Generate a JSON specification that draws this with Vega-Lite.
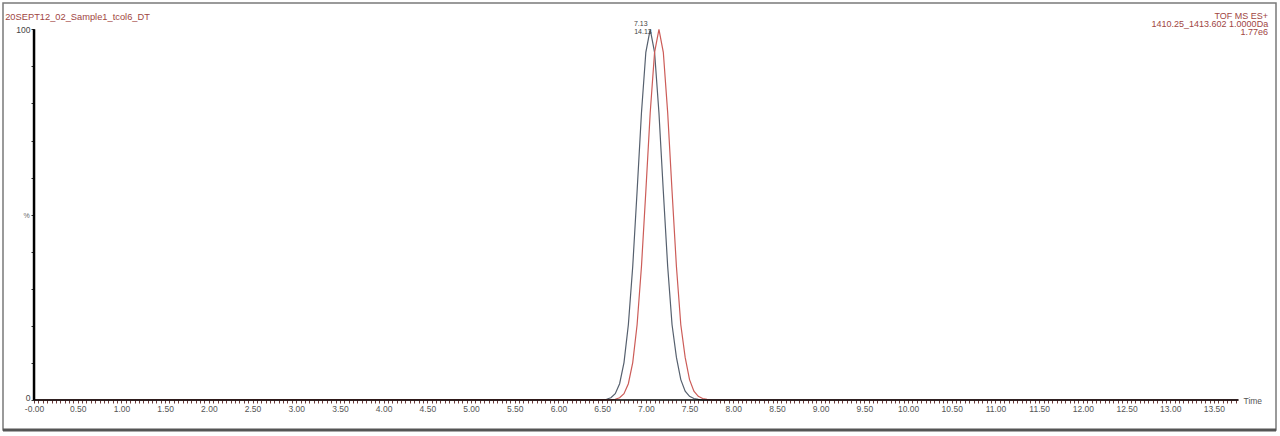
{
  "$schema": "https://vega.github.io/schema/vega-lite/v6.json",
  "width": 1273,
  "height": 427,
  "autosize": {"type": "none"},
  "padding": {"left": 3, "top": 3, "right": 4, "bottom": 6},
  "background": "white",
  "config": {"view": {"stroke": "#7a7a7a", "strokeWidth": 1.5}, "font": "Liberation Sans"},
  "datasets": {
    "trace": [
      {"trace": "grey", "time": 0, "intensity": 0},
      {"trace": "grey", "time": 6.50, "intensity": 0.05},
      {"trace": "grey", "time": 6.55, "intensity": 0.2},
      {"trace": "grey", "time": 6.60, "intensity": 0.6},
      {"trace": "grey", "time": 6.65, "intensity": 1.7},
      {"trace": "grey", "time": 6.70, "intensity": 4.4},
      {"trace": "grey", "time": 6.75, "intensity": 10.1},
      {"trace": "grey", "time": 6.80, "intensity": 20.3},
      {"trace": "grey", "time": 6.85, "intensity": 36.0},
      {"trace": "grey", "time": 6.90, "intensity": 56.3},
      {"trace": "grey", "time": 6.95, "intensity": 77.5},
      {"trace": "grey", "time": 7.00, "intensity": 93.8},
      {"trace": "grey", "time": 7.05, "intensity": 100},
      {"trace": "grey", "time": 7.10, "intensity": 93.8},
      {"trace": "grey", "time": 7.15, "intensity": 77.5},
      {"trace": "grey", "time": 7.20, "intensity": 56.3},
      {"trace": "grey", "time": 7.25, "intensity": 36.0},
      {"trace": "grey", "time": 7.30, "intensity": 20.3},
      {"trace": "grey", "time": 7.35, "intensity": 11.5},
      {"trace": "grey", "time": 7.40, "intensity": 5.5},
      {"trace": "grey", "time": 7.45, "intensity": 2.4},
      {"trace": "grey", "time": 7.50, "intensity": 1.0},
      {"trace": "grey", "time": 7.55, "intensity": 0.4},
      {"trace": "grey", "time": 7.60, "intensity": 0.15},
      {"trace": "grey", "time": 7.65, "intensity": 0},
      {"trace": "grey", "time": 13.78, "intensity": 0},
      {"trace": "red", "time": 0, "intensity": 0},
      {"trace": "red", "time": 6.60, "intensity": 0.05},
      {"trace": "red", "time": 6.65, "intensity": 0.2},
      {"trace": "red", "time": 6.70, "intensity": 0.6},
      {"trace": "red", "time": 6.75, "intensity": 1.7},
      {"trace": "red", "time": 6.80, "intensity": 4.4},
      {"trace": "red", "time": 6.85, "intensity": 10.1},
      {"trace": "red", "time": 6.90, "intensity": 20.3},
      {"trace": "red", "time": 6.95, "intensity": 36.0},
      {"trace": "red", "time": 7.00, "intensity": 56.3},
      {"trace": "red", "time": 7.05, "intensity": 77.5},
      {"trace": "red", "time": 7.10, "intensity": 93.8},
      {"trace": "red", "time": 7.15, "intensity": 100},
      {"trace": "red", "time": 7.20, "intensity": 93.8},
      {"trace": "red", "time": 7.25, "intensity": 77.5},
      {"trace": "red", "time": 7.30, "intensity": 56.3},
      {"trace": "red", "time": 7.35, "intensity": 36.0},
      {"trace": "red", "time": 7.40, "intensity": 20.3},
      {"trace": "red", "time": 7.45, "intensity": 11.5},
      {"trace": "red", "time": 7.50, "intensity": 5.5},
      {"trace": "red", "time": 7.55, "intensity": 2.4},
      {"trace": "red", "time": 7.60, "intensity": 1.0},
      {"trace": "red", "time": 7.65, "intensity": 0.4},
      {"trace": "red", "time": 7.70, "intensity": 0.15},
      {"trace": "red", "time": 7.75, "intensity": 0},
      {"trace": "red", "time": 13.78, "intensity": 0}
    ],
    "peaks": [
      {"trace": "red", "time": 7.15, "intensity": 100, "label": "7.13"},
      {"trace": "grey", "time": 7.05, "intensity": 100, "label": "14.13"}
    ]
  },
  "layer": [
    {
      "data": {"name": "trace"},
      "mark": {"type": "line", "strokeWidth": 1.2},
      "encoding": {
        "x": {
          "field": "time", "type": "quantitative",
          "scale": {"domain": [-0.355, 14.21], "nice": false, "zero": false},
          "axis": {
            "orient": "bottom", "offset": -30, "domain": false, "grid": false,
            "tickCount": 292, "tickSize": 3, "tickWidth": 1,
            "tickColor": "#6b3a3a",
            "tickOpacity": {"condition": {"test": "datum.value < -0.01 || datum.value > 13.79", "value": 0}, "value": 1},
            "labelExpr": "(datum.value < -0.01 || datum.value > 13.51 || abs(datum.value*2 - round(datum.value*2)) > 0.01) ? '' : (abs(datum.value) < 0.001 ? '-0.00' : format(datum.value, '.2f'))",
            "labelOverlap": false, "labelBound": false, "labelFlush": false,
            "labelFontSize": 8.5, "labelColor": "#555555", "labelPadding": 1,
            "title": "Time", "titleX": 1240, "titleY": 0, "titleAlign": "left", "titleBaseline": "middle",
            "titleAngle": 0, "titleFontSize": 8.5, "titleFontWeight": "normal", "titleColor": "#555555"
          }
        },
        "y": {
          "field": "intensity", "type": "quantitative",
          "scale": {"domain": [-8.09, 107.1], "nice": false, "zero": false},
          "axis": {
            "orient": "left", "offset": -31, "domain": false, "grid": false,
            "values": [0, 10, 20, 30, 40, 50, 60, 70, 80, 90, 100],
            "tickSize": 3, "tickColor": "#333333",
            "labelExpr": "(datum.value == 0 || datum.value == 100) ? datum.label : ''",
            "labelOffset": {"condition": {"test": "datum.value == 0", "value": -3}, "value": 0},
            "labelFontSize": 8.5, "labelColor": "#444444", "labelPadding": 1,
            "title": "%", "titleAngle": 0, "titleX": -8, "titleY": 212, "titleAlign": "center", "titleBaseline": "middle",
            "titleFontSize": 7, "titleFontWeight": "normal", "titleColor": "#666666"
          }
        },
        "color": {
          "field": "trace", "type": "nominal",
          "scale": {"domain": ["grey", "red"], "range": ["#56606e", "#cc5c58"]},
          "legend": null
        }
      }
    },
    {
      "data": {"values": [{}]},
      "mark": {"type": "rule", "color": "#000000", "strokeWidth": 2.5},
      "encoding": {
        "x": {"datum": 0, "type": "quantitative"},
        "y": {"datum": 0, "type": "quantitative"},
        "y2": {"datum": 100}
      }
    },
    {
      "data": {"values": [{}]},
      "mark": {"type": "rule", "color": "#000000", "strokeWidth": 1.5},
      "encoding": {
        "x": {"datum": 0, "type": "quantitative"},
        "x2": {"datum": 13.78},
        "y": {"datum": 0, "type": "quantitative"}
      }
    },
    {
      "data": {"values": [{}]},
      "mark": {"type": "rule", "color": "#555555", "strokeWidth": 3},
      "encoding": {
        "x": {"datum": -0.355, "type": "quantitative"},
        "x2": {"datum": 14.21},
        "y": {"datum": -8.09, "type": "quantitative"}
      }
    },
    {
      "data": {"name": "peaks"},
      "transform": [{"filter": "datum.trace == 'red'"}],
      "mark": {"type": "text", "fontSize": 7, "color": "#444444", "align": "left", "baseline": "middle", "dx": -25, "dy": -5},
      "encoding": {
        "x": {"field": "time", "type": "quantitative"},
        "y": {"field": "intensity", "type": "quantitative"},
        "text": {"field": "label"}
      }
    },
    {
      "data": {"name": "peaks"},
      "transform": [{"filter": "datum.trace == 'grey'"}],
      "mark": {"type": "text", "fontSize": 7, "color": "#444444", "align": "left", "baseline": "middle", "dx": -16, "dy": 3},
      "encoding": {
        "x": {"field": "time", "type": "quantitative"},
        "y": {"field": "intensity", "type": "quantitative"},
        "text": {"field": "label"}
      }
    },
    {
      "data": {"values": [{}]},
      "mark": {"type": "text", "fontSize": 9.3, "color": "#a0453f", "align": "left", "baseline": "middle"},
      "encoding": {
        "x": {"datum": -0.33, "type": "quantitative"},
        "y": {"datum": 103.3, "type": "quantitative"},
        "text": {"value": "20SEPT12_02_Sample1_tcol6_DT"}
      }
    },
    {
      "data": {"values": [{}]},
      "mark": {"type": "text", "fontSize": 9, "lineHeight": 8, "color": "#a0453f", "align": "right", "baseline": "top"},
      "encoding": {
        "x": {"datum": 14.12, "type": "quantitative"},
        "y": {"datum": 104.6, "type": "quantitative"},
        "text": {"value": ["TOF MS ES+", "1410.25_1413.602 1.0000Da", "1.77e6"]}
      }
    }
  ]
}
